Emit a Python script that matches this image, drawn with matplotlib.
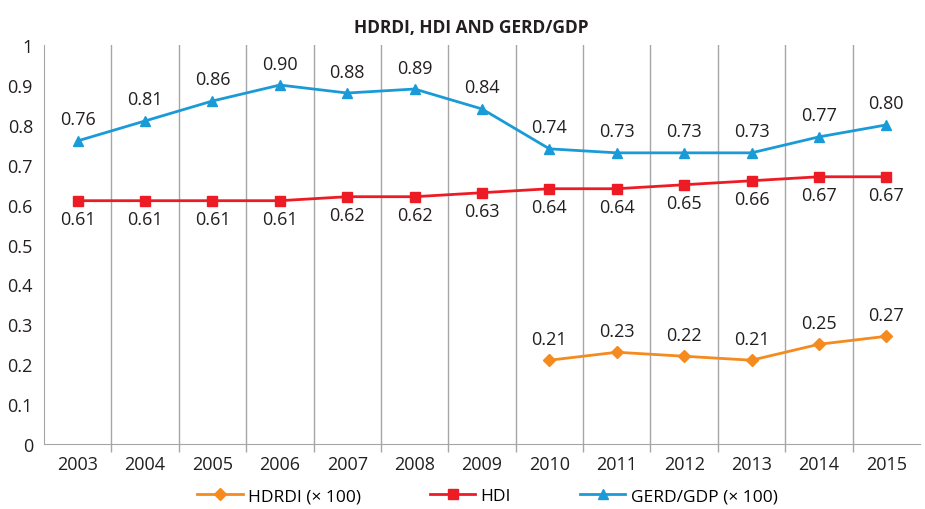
import numpy as np
import matplotlib.pyplot as plt

years = ['2003', '2004', '2005', '2006', '2007', '2008', '2009',
         '2010', '2011', '2012', '2013', '2014', '2015']
hdrdi = [np.nan, np.nan, np.nan, np.nan, np.nan, np.nan, np.nan,
         0.21, 0.23, 0.22, 0.21, 0.25, 0.27]
hdi = [0.61, 0.61, 0.61, 0.61, 0.62, 0.62, 0.63, 0.64, 0.64, 0.65, 0.66, 0.67, 0.67]
gerd = [0.76, 0.81, 0.86, 0.90, 0.88, 0.89, 0.84, 0.74, 0.73, 0.73, 0.73, 0.77, 0.80]

plt.rcParams['font.family'] = ['Open Sans', 'DejaVu Sans']

orange = '#F58A1F'
red = '#ED1C24'
blue = '#1A9BD7'
grey = '#A6A6A6'

fig = plt.figure(figsize=(9.25, 5.1), dpi=100)
ax = fig.add_axes([0.0476, 0.1275, 0.947, 0.782])

x = np.arange(len(years))

ax.plot(x, hdrdi, color=orange, lw=2, marker='D', ms=6.5, label='HDRDI (\u00d7 100)')
ax.plot(x, hdi, color=red, lw=2, marker='s', ms=6.5, label='HDI')
ax.plot(x, gerd, color=blue, lw=2, marker='^', ms=7.5, label='GERD/GDP (\u00d7 100)')

# value labels
for i, v in enumerate(gerd):
    ax.annotate(f'{v:.2f}', (i, v), xytext=(0, 9), textcoords='offset points',
                ha='center', va='bottom', fontsize=13, color='#231F20')
for i, v in enumerate(hdi):
    ax.annotate(f'{v:.2f}', (i, v), xytext=(0, -7), textcoords='offset points',
                ha='center', va='top', fontsize=13, color='#231F20')
for i, v in enumerate(hdrdi):
    if not np.isnan(v):
        ax.annotate(f'{v:.2f}', (i, v), xytext=(0, 9), textcoords='offset points',
                    ha='center', va='bottom', fontsize=13, color='#231F20')

ax.set_xlim(-0.5, len(years) - 0.5)
ax.set_ylim(0, 1)
ax.set_yticks(np.arange(0, 1.01, 0.1))
ax.set_yticklabels(['0', '0.1', '0.2', '0.3', '0.4', '0.5', '0.6', '0.7', '0.8', '0.9', '1'])
ax.set_xticks(x)
ax.set_xticklabels(years)
ax.set_xticks(np.arange(0.5, len(years) - 0.5, 1), minor=True)
ax.tick_params(axis='x', which='major', length=0, labelsize=13, pad=8, colors='#231F20')
ax.tick_params(axis='x', which='minor', length=6, color=grey, width=1)
ax.tick_params(axis='y', length=0, labelsize=13, pad=8, colors='#231F20')
ax.grid(True, axis='x', which='minor', color=grey, lw=1)

for s in ['top', 'right']:
    ax.spines[s].set_visible(False)
ax.spines['left'].set_color(grey)
ax.spines['bottom'].set_color(grey)

fig.text(0.51, 0.945, 'HDRDI, HDI AND GERD/GDP', ha='center', va='center',
         fontsize=12.5, fontweight='bold', color='#231F20')

fig.legend(loc='center', bbox_to_anchor=(0.527, 0.025), ncol=3, frameon=False,
           fontsize=12.5, handlelength=2.6, columnspacing=4.0, handletextpad=0.3)

fig.savefig('out.png', dpi=100)
